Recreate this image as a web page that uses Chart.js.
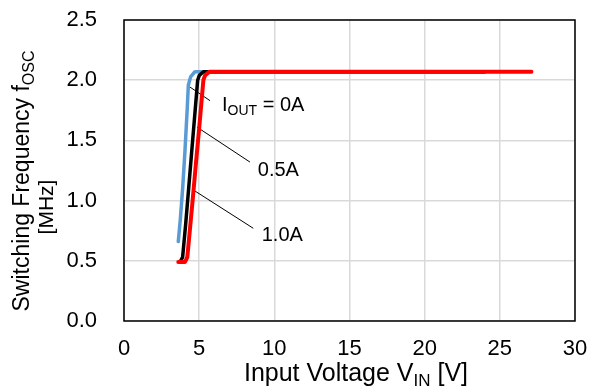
<!DOCTYPE html>
<html>
<head>
<meta charset="utf-8">
<script src="https://cdn.jsdelivr.net/npm/chart.js@4.4.0/dist/chart.umd.min.js"></script>
<style>
html,body{margin:0;padding:0;background:#fff;}
#c{display:block;}
</style>
</head>
<body>
<canvas id="c" width="592" height="389"></canvas>
<script>
// ---- data ----
const vin0A  = [3.61, 3.75, 3.90, 4.05, 4.20, 4.28, 4.44, 4.72, 5.2, 10, 15, 20, 24];
const fosc0A = [0.66, 0.85, 1.10, 1.40, 1.75, 1.96, 2.03, 2.07, 2.07, 2.07, 2.07, 2.07, 2.07];

const vin05A  = [3.73, 3.90, 4.10, 4.30, 4.50, 4.70, 4.90, 5.01, 5.28, 6, 10, 15, 20, 24];
const fosc05A = [0.49, 0.53, 0.80, 1.10, 1.40, 1.70, 2.00, 2.04, 2.07, 2.07, 2.07, 2.07, 2.07, 2.07];

const vin10A  = [3.61, 4.06, 4.21, 4.40, 4.60, 4.80, 5.00, 5.28, 5.39, 5.68, 10, 15, 20, 27.1];
const fosc10A = [0.49, 0.49, 0.53, 0.78, 1.05, 1.33, 1.60, 2.00, 2.04, 2.07, 2.07, 2.07, 2.07, 2.07];

// leader lines for annotations [x0,y0,x1,y1]
const leader0A  = [4.19, 1.96, 5.72, 1.83];
const leader05A = [4.86, 1.61, 8.38, 1.32];
const leader10A = [4.59, 1.09, 8.60, 0.77];

const annotLabels = [
  {segs:[['I',0],['OUT',1],[' = 0A',0]], x:6.52, y:1.786},
  {segs:[['0.5A',0]], x:8.9, y:1.254},
  {segs:[['1.0A',0]], x:9.16, y:0.714}
];

const xTicks = [0, 5, 10, 15, 20, 25, 30];
const yTicks = [0.0, 0.5, 1.0, 1.5, 2.0, 2.5];

const FONT = '"Liberation Sans", Arial, sans-serif';

function pts(xs, ys){ return xs.map((x,i)=>({x:x, y:ys[i]})); }
function seg(a){ return [{x:a[0],y:a[1]},{x:a[2],y:a[3]}]; }

// draw text with subscripts; segs: [text, isSub]
function drawRich(ctx, segs, x, y, size, subSize, subDy, align){
  let total = 0;
  const widths = segs.map(s=>{
    ctx.font = (s[1]?subSize:size) + 'px ' + FONT;
    const w = ctx.measureText(s[0]).width; total += w; return w;
  });
  let cx = align==='center' ? x - total/2 : x;
  segs.forEach((s,i)=>{
    ctx.font = (s[1]?subSize:size) + 'px ' + FONT;
    ctx.fillText(s[0], cx, y + (s[1]?subDy:0));
    cx += widths[i];
  });
}

const overlay = {
  id:'overlay',
  afterDraw(chart){
    const ctx = chart.ctx, a = chart.chartArea;
    const xs = chart.scales.x, ys = chart.scales.y;
    ctx.save();
    // plot border
    ctx.strokeStyle = '#000'; ctx.lineWidth = 1.5;
    ctx.strokeRect(a.left, a.top, a.right-a.left, a.bottom-a.top);
    ctx.fillStyle = '#000';
    ctx.textBaseline = 'middle';
    ctx.textAlign = 'left';
    annotLabels.forEach(l=>{
      drawRich(ctx, l.segs, xs.getPixelForValue(l.x), ys.getPixelForValue(l.y), 20, 14, 5, 'left');
    });
    // x title
    ctx.textBaseline = 'alphabetic';
    drawRich(ctx, [['Input Voltage V',0],['IN',1],[' [V]',0]], 356, 381, 25, 17, 5, 'center');
    // y title
    ctx.save();
    ctx.translate(29, 181);
    ctx.rotate(-Math.PI/2);
    drawRich(ctx, [['Switching Frequency f',0],['OSC',1]], 0, 0, 23, 16, 5, 'center');
    ctx.restore();
    ctx.save();
    ctx.translate(53, 207);
    ctx.rotate(-Math.PI/2);
    drawRich(ctx, [['[MHz]',0]], 0, 0, 21, 14, 4, 'center');
    ctx.restore();
    ctx.restore();
  }
};

function zeroPad(s){ s.paddingTop = 0; s.paddingBottom = 0; s.paddingLeft = 0; s.paddingRight = 0; }

const leaderStyle = {borderColor:'#000', borderWidth:1, pointRadius:0, fill:false, order:5};

new Chart(document.getElementById('c'), {
  type:'scatter',
  data:{
    datasets:[
      Object.assign({label:'L0', data:seg(leader0A)}, leaderStyle, {showLine:true}),
      Object.assign({label:'L05', data:seg(leader05A)}, leaderStyle, {showLine:true}),
      Object.assign({label:'L10', data:seg(leader10A)}, leaderStyle, {showLine:true}),
      {label:'IOUT=0A', data:pts(vin0A, fosc0A), showLine:true, borderColor:'#5b9bd5', borderWidth:3.5, pointRadius:0, order:3, tension:0, borderJoinStyle:'round', borderCapStyle:'round'},
      {label:'0.5A', data:pts(vin05A, fosc05A), showLine:true, borderColor:'#000000', borderWidth:3.5, pointRadius:0, order:2, tension:0, borderJoinStyle:'round', borderCapStyle:'round'},
      {label:'1.0A', data:pts(vin10A, fosc10A), showLine:true, borderColor:'#ff0000', borderWidth:4, pointRadius:0, order:1, tension:0, borderJoinStyle:'round', borderCapStyle:'round'}
    ]
  },
  options:{
    responsive:false,
    animation:false,
    devicePixelRatio:1,
    layout:{padding:{left:0, top:20, right:17, bottom:0}},
    plugins:{legend:{display:false}, tooltip:{enabled:false}},
    scales:{
      x:{
        type:'linear', min:0, max:30,
        afterBuildTicks(s){ s.ticks = xTicks.map(v=>({value:v})); },
        afterFit(s){ s.height = 68; zeroPad(s); },
        grid:{color:'#d9d9d9', lineWidth:1.5, drawTicks:false},
        border:{display:false},
        ticks:{padding:15, color:'#000', font:{family:FONT, size:22}, maxRotation:0,
               callback:v=>String(v)}
      },
      y:{
        type:'linear', min:0, max:2.5,
        afterBuildTicks(s){ s.ticks = yTicks.map(v=>({value:v})); },
        afterFit(s){ s.width = 124; zeroPad(s); },
        grid:{color:'#d9d9d9', lineWidth:1.5, drawTicks:false},
        border:{display:false},
        ticks:{padding:27, color:'#000', font:{family:FONT, size:22},
               callback:v=>Number(v).toFixed(1)}
      }
    }
  },
  plugins:[overlay]
});
</script>
</body>
</html>
